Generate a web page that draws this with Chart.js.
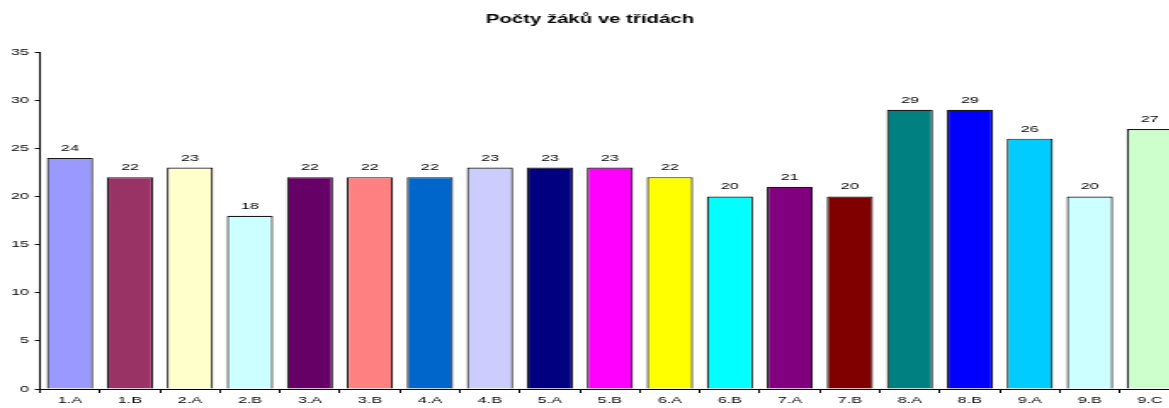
<!DOCTYPE html>
<html>
<head>
<meta charset="utf-8">
<script src="https://cdn.jsdelivr.net/npm/chart.js@4/dist/chart.umd.min.js"></script>
<style>
  html, body { margin: 0; padding: 0; background: #fff; overflow: hidden; }
  /* the original picture is an Excel chart stretched sideways, so draw narrow and widen it */
  #wrap { width: 697px; height: 408px; transform: scaleX(1.7); transform-origin: 0 0; }
</style>
</head>
<body>
<div id="wrap"><canvas id="chart" width="697" height="408"></canvas></div>
<script>
const classes = ["1.A", "1.B", "2.A", "2.B", "3.A", "3.B", "4.A", "4.B", "5.A", "5.B",
  "6.A", "6.B", "7.A", "7.B", "8.A", "8.B", "9.A", "9.B", "9.C"]
const pupils = [24, 22, 23, 18, 22, 22, 22, 23, 23, 23, 22, 20, 21, 20, 29, 29, 26, 20, 27]
const barColors = ["#9999FF", "#993366", "#FFFFCC", "#CCFFFF", "#660066", "#FF8080", "#0066CC",
  "#CCCCFF", "#000080", "#FF00FF", "#FFFF00", "#00FFFF", "#800080", "#800000", "#008080",
  "#0000FF", "#00CCFF", "#CCFFFF", "#CCFFCC"]

const font = "'Liberation Sans', Arial, sans-serif"

// value labels above each bar, like the Excel original
const valueLabels = {
  id: "valueLabels",
  afterDatasetsDraw(chart) {
    const ctx = chart.ctx
    const meta = chart.getDatasetMeta(0)
    ctx.save()
    ctx.font = "9.5px " + font
    ctx.fillStyle = "#000"
    ctx.textAlign = "center"
    ctx.textBaseline = "alphabetic"
    meta.data.forEach((bar, i) => {
      ctx.fillText(String(pupils[i]), bar.x, bar.y - 7)
    })
    ctx.restore()
  },
}

new Chart(document.getElementById("chart"), {
  type: "bar",
  data: {
    labels: classes,
    datasets: [{
      data: pupils,
      backgroundColor: barColors,
      borderColor: "#1a1a1a",
      borderWidth: 1.2,
      barPercentage: 0.77,
      categoryPercentage: 1.0,
    }],
  },
  options: {
    responsive: false,
    animation: false,
    layout: { padding: { left: 0, right: 3, top: 0, bottom: 0 } },
    plugins: {
      legend: { display: false },
      tooltip: { enabled: false },
      title: {
        display: true,
        text: "Počty žáků ve třídách",
        color: "#000",
        font: { family: font, size: 12, weight: "bold" },
        padding: { top: 12, bottom: 25.6 },
      },
    },
    scales: {
      x: {
        grid: { drawOnChartArea: false, drawTicks: true, tickLength: 4, color: "#000", offset: true },
        border: { display: true, color: "#000", width: 1 },
        ticks: { color: "#000", font: { family: font, size: 9.5 }, padding: 2, maxRotation: 0, autoSkip: false },
        afterFit(scale) { scale.height = 19 },
      },
      y: {
        min: 0,
        max: 35,
        grid: { drawOnChartArea: false, drawTicks: true, tickLength: 3, color: "#000" },
        border: { display: true, color: "#000", width: 1 },
        ticks: { stepSize: 5, color: "#000", font: { family: font, size: 9.5 }, padding: 3.4 },
        afterFit(scale) { scale.width = 23.5 },
      },
    },
  },
  plugins: [valueLabels],
})
</script>
</body>
</html>
